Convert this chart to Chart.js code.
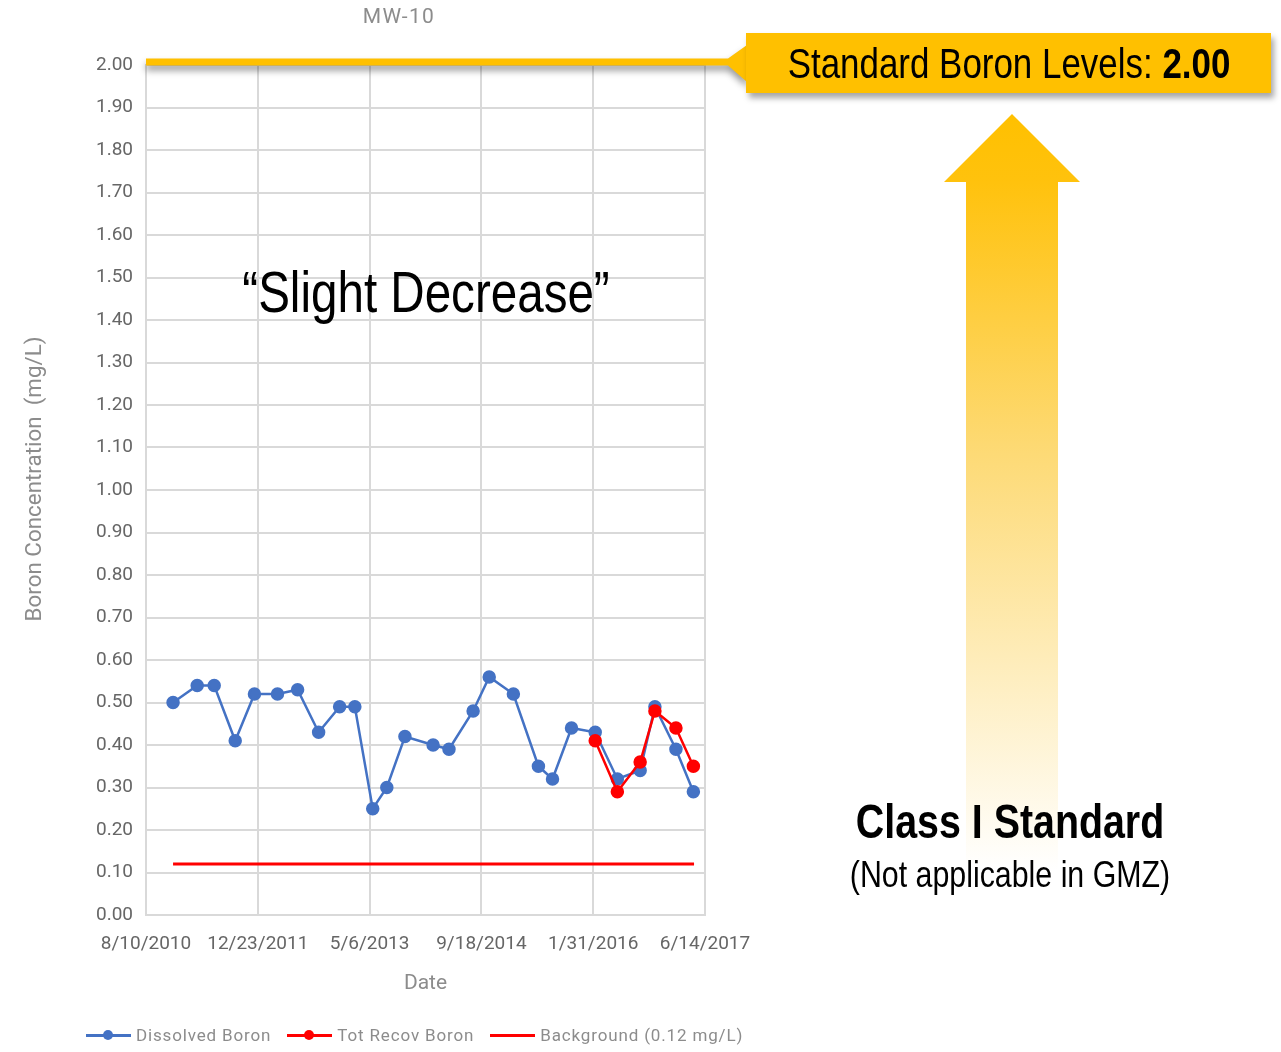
<!DOCTYPE html>
<html lang="en">
<head>
<meta charset="UTF-8">
<title>MW-10 Boron</title>
<script src="https://cdn.jsdelivr.net/npm/chart.js"></script>
<style>
  body { margin: 0; background: #fff; }
  #wrap { position: relative; width: 1281px; height: 1052px; overflow: hidden; font-family: Roboto, sans-serif; }
  #chartBox { position: absolute; left: 0; top: 0; }
  .abs { position: absolute; white-space: nowrap; }
  .narrow { font-family: "Liberation Sans Narrow", "Liberation Sans", sans-serif; color: #000; }
  .center { transform: translateX(-50%); }
  .center.squeeze { transform: translateX(-50%) scaleX(0.82); }
  #title { left: 399px; top: 3px; font-size: 21px; line-height: 26px; color: #8c8c8c; letter-spacing: 1.3px; }
  #callout { left: 746px; top: 33px; width: 525px; height: 60px; background: #FFC000;
             box-shadow: 3px 5px 6px rgba(0,0,0,0.35); }
  #legend { left: 86px; top: 1023px; font-size: 17px; line-height: 24px; color: #8c8c8c; letter-spacing: 0.85px; display: flex; }
  .item { display: flex; align-items: center; margin-right: 16px; }
  .mark { position: relative; width: 45px; height: 24px; margin-right: 5px; }
  .mark .ln { position: absolute; left: 0; right: 0; top: 11px; height: 2.5px; }
  .mark .dot { position: absolute; left: 17px; top: 7px; width: 10px; height: 10px; border-radius: 50%; }
</style>
</head>
<body>
<div id="wrap">
  <canvas id="chartBox" width="800" height="1052"></canvas>

  <svg class="abs" style="left:0;top:0" width="1281" height="1052">
    <defs>
      <linearGradient id="arrowFill" gradientUnits="userSpaceOnUse" x1="0" y1="114" x2="0" y2="870">
        <stop offset="0" stop-color="#FFC000"/>
        <stop offset="0.09" stop-color="#FFC20D"/>
        <stop offset="0.45" stop-color="#FDDA76"/>
        <stop offset="1" stop-color="#FFFFFF"/>
      </linearGradient>
    </defs>
    <polygon points="1012,114 1080,182 1058,182 1058,870 966,870 966,182 944,182" fill="url(#arrowFill)"/>
  </svg>

  <div id="title" class="abs center">MW-10</div>
  <div id="callout" class="abs"></div>
  <div id="calloutText" class="abs narrow center" style="left:1009px;top:33px;font-size:42.6px;line-height:60px;">Standard Boron Levels: <b>2.00</b></div>
  <div id="slight" class="abs narrow center" style="left:426px;top:261px;font-size:58px;line-height:62px;">“Slight Decrease”</div>
  <div id="classI" class="abs narrow center" style="left:1010px;top:796px;font-size:48px;line-height:52px;font-weight:bold;">Class I Standard</div>
  <div id="notApp" class="abs narrow center" style="left:1010px;top:853px;font-size:37px;line-height:44px;">(Not applicable in GMZ)</div>

  <div id="legend" class="abs"></div>
</div>

<script>
// sampling dates and values
const dissolvedDates = ['2010-12-09', '2011-03-27', '2011-06-11', '2011-09-13', '2011-12-08', '2012-03-20',
  '2012-06-18', '2012-09-20', '2012-12-23', '2013-03-01', '2013-05-20', '2013-07-22', '2013-10-11',
  '2014-02-14', '2014-04-26', '2014-08-12', '2014-10-23', '2015-02-08', '2015-05-31', '2015-08-02',
  '2015-10-26', '2016-02-09', '2016-05-18', '2016-08-28', '2016-11-02', '2017-02-04', '2017-04-23'];
const dissolvedBoron = [0.50, 0.54, 0.54, 0.41, 0.52, 0.52, 0.53, 0.43, 0.49, 0.49, 0.25, 0.30, 0.42,
  0.40, 0.39, 0.48, 0.56, 0.52, 0.35, 0.32, 0.44, 0.43, 0.32, 0.34, 0.49, 0.39, 0.29];

const totRecovDates = ['2016-02-09', '2016-05-18', '2016-08-28', '2016-11-02', '2017-02-04', '2017-04-23'];
const totRecovBoron = [0.41, 0.29, 0.36, 0.48, 0.44, 0.35];

const backgroundDates = ['2010-12-09', '2017-04-26'];
const backgroundBoron = [0.12, 0.12];

const standardLevel = 2.00;

// x axis runs in days from 8/10/2010, one tick every 500 days
const axisStart = '2010-08-10';
const axisSpanDays = 2500;
const axisStepDays = 500;

const DAY = 86400000;
function utc(s) {
    const [y, m, d] = s.split('-').map(Number);
    return Date.UTC(y, m - 1, d);
}
const startMs = utc(axisStart);
const toDay = s => (utc(s) - startMs) / DAY;
function fmtDay(v) {
    const dt = new Date(startMs + v * DAY);
    return (dt.getUTCMonth() + 1) + '/' + dt.getUTCDate() + '/' + dt.getUTCFullYear();
}
const points = (dates, vals) => dates.map((d, i) => ({ x: toDay(d), y: vals[i] }));

// fall back to a squeezed Liberation Sans if the narrow face is missing
(function checkNarrow() {
    const c = document.createElement('canvas').getContext('2d');
    c.font = '40px "Liberation Sans"';
    const w1 = c.measureText('Standard Boron').width;
    c.font = '40px "Liberation Sans Narrow", "Liberation Sans"';
    const w2 = c.measureText('Standard Boron').width;
    if (w2 > w1 * 0.9) {
        document.querySelectorAll('.narrow.center').forEach(el => el.classList.add('squeeze'));
    }
})();

// yellow 2.00 line with the callout pointer
const standardLine = {
    id: 'standardLine',
    afterDraw(chart) {
        const { ctx, chartArea, scales } = chart;
        const y = scales.y.getPixelForValue(standardLevel) - 3;
        ctx.save();
        ctx.shadowColor = 'rgba(0,0,0,0.4)';
        ctx.shadowBlur = 7;
        ctx.shadowOffsetY = 5;
        ctx.fillStyle = '#FFC000';
        ctx.beginPath();
        ctx.moveTo(chartArea.left, y - 3.5);
        ctx.lineTo(728, y - 3.5);
        ctx.lineTo(747, y - 17);
        ctx.lineTo(747, y + 20);
        ctx.lineTo(728, y + 3.5);
        ctx.lineTo(chartArea.left, y + 3.5);
        ctx.closePath();
        ctx.fill();
        ctx.restore();
    }
};

const gridColor = '#d9d9d9';
const tickColor = '#666666';

new Chart(document.getElementById('chartBox'), {
    type: 'line',
    data: {
        datasets: [
            {
                label: 'Tot Recov Boron',
                data: points(totRecovDates, totRecovBoron),
                borderColor: '#FF0000',
                backgroundColor: '#FF0000',
                borderWidth: 2.5,
                pointRadius: 5.5,
                order: 0
            },
            {
                label: 'Dissolved Boron',
                data: points(dissolvedDates, dissolvedBoron),
                borderColor: '#4472C4',
                backgroundColor: '#4472C4',
                borderWidth: 2.5,
                pointRadius: 5.5,
                order: 1
            },
            {
                label: 'Background (0.12 mg/L)',
                data: points(backgroundDates, backgroundBoron),
                borderColor: '#FF0000',
                borderWidth: 3,
                pointRadius: 0,
                order: 2
            }
        ]
    },
    options: {
        responsive: false,
        animation: false,
        layout: { padding: { top: 65, right: 95, bottom: 56, left: 0 } },
        plugins: {
            legend: { display: false },
            tooltip: { enabled: false }
        },
        scales: {
            x: {
                type: 'linear',
                min: 0,
                max: axisSpanDays,
                afterFit: s => { s.height = 81; },
                ticks: {
                    stepSize: axisStepDays,
                    padding: 18,
                    maxRotation: 0,
                    color: tickColor,
                    font: { family: 'Roboto', size: 19 },
                    callback: v => fmtDay(v)
                },
                grid: { color: gridColor, lineWidth: 2, drawTicks: false },
                border: { color: gridColor, width: 2 },
                title: {
                    display: true,
                    text: 'Date',
                    color: '#8c8c8c',
                    font: { family: 'Roboto', size: 21 },
                    padding: { top: 0, bottom: 0 }
                }
            },
            y: {
                min: 0,
                max: 2,
                afterFit: s => { s.width = 146; },
                ticks: {
                    stepSize: 0.1,
                    padding: 13,
                    color: tickColor,
                    font: { family: 'Roboto', size: 19 },
                    callback: v => v.toFixed(2)
                },
                grid: { color: gridColor, lineWidth: 2, drawTicks: false },
                border: { color: gridColor, width: 2 },
                title: {
                    display: true,
                    // leading spaces nudge the rotated title a little higher, as in the original
                    text: '    Boron Concentration  (mg/L)',
                    color: '#8c8c8c',
                    font: { family: 'Roboto', size: 22.4 },
                    padding: { top: 22, bottom: 0 }
                }
            }
        }
    },
    plugins: [standardLine]
});

// legend in the spreadsheet style: line with a marker
const legendItems = [
    { text: 'Dissolved Boron', color: '#4472C4', dot: true },
    { text: 'Tot Recov Boron', color: '#FF0000', dot: true },
    { text: 'Background (0.12 mg/L)', color: '#FF0000', dot: false }
];
document.getElementById('legend').innerHTML = legendItems.map(it =>
    '<span class="item"><span class="mark"><span class="ln" style="background:' + it.color + '"></span>' +
    (it.dot ? '<span class="dot" style="background:' + it.color + '"></span>' : '') +
    '</span>' + it.text + '</span>').join('');
</script>
</body>
</html>
